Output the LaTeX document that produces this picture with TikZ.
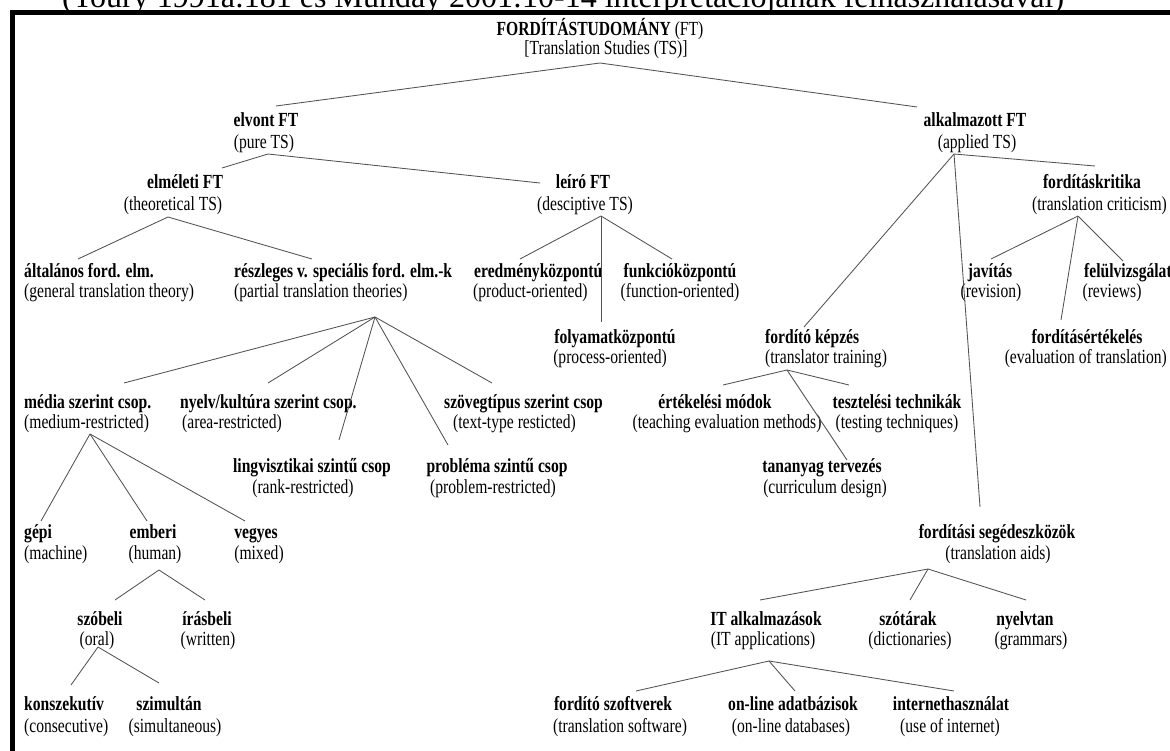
\documentclass[tikz,border=0pt]{standalone}
\usepackage{fontspec}
\setmainfont{Liberation Serif}
\newfontfamily\lab[FakeStretch=0.78]{Liberation Serif}
\usetikzlibrary{calc}
\begin{document}
\begin{tikzpicture}[x=1pt,y=-1pt,
  hu/.style={font=\lab\bfseries\fontsize{20}{22}\selectfont, inner sep=0pt, anchor=base},
  en/.style={font=\lab\fontsize{20}{22}\selectfont, inner sep=0pt, anchor=base},
  conn/.style={draw=black!68, line width=0.85pt}]
\useasboundingbox (0,0) rectangle (1170,751);

% caption above the frame and the frame rules
\node[anchor=base west, inner sep=0pt, font=\fontsize{32}{36}\selectfont] (cap) at (62,8)
  {(Toury 1991a:181 és Munday 2001:10-14 interpretációjának felhasználásával)};
\fill (10,10) rectangle (1172,15);
\fill (10,10) rectangle (15,753);

% levels 0-2
\node[hu] (root) at (600,36) {FORDÍTÁSTUDOMÁNY\mdseries\ (FT)};
\node[en] (rootE) at (606,55) {[Translation Studies (TS)]};
\node[hu] (elvont) at (266,127) {elvont FT};
\node[en] (elvontE) at (264,149) {(pure TS)};
\node[hu] (alk) at (975,127) {alkalmazott FT};
\node[en] (alkE) at (977,149) {(applied TS)};
\node[hu] (elm) at (185,189) {elméleti FT};
\node[en] (elmE) at (173,211) {(theoretical TS)};
\node[hu] (leiro) at (583,189) {leíró FT};
\node[en] (leiroE) at (585,211) {(desciptive TS)};
\node[hu] (krit) at (1092,189) {fordításkritika};
\node[en, anchor=base east] (kritE) at (1167,211) {(translation criticism)};

% level 3
\node[hu, anchor=base west] (alt) at (24,278) {általános ford. elm.};
\node[en, anchor=base west] (altE) at (24,298) {(general translation theory)};
\node[hu, anchor=base west] (resz) at (234,278) {részleges v. speciális ford. elm.-k};
\node[en, anchor=base west] (reszE) at (234,298) {(partial translation theories)};
\node[hu, anchor=base west] (ered) at (474,278) {eredményközpontú};
\node[en, anchor=base west] (eredE) at (473,298) {(product-oriented)};
\node[hu] (funk) at (680,278) {funkcióközpontú};
\node[en] (funkE) at (680,298) {(function-oriented)};
\node[hu] (jav) at (990,278) {javítás};
\node[en] (javE) at (991,298) {(revision)};
\node[hu, anchor=base west] (felul) at (1084,278) {felülvizsgálat};
\node[en] (felulE) at (1112,298) {(reviews)};

% level 4
\node[hu] (foly) at (615,343) {folyamatközpontú};
\node[en] (folyE) at (610,363) {(process-oriented)};
\node[hu, anchor=base west] (kepz) at (765,343) {fordító képzés};
\node[en, anchor=base west] (kepzE) at (765,363) {(translator training)};
\node[hu] (ertek) at (1087,343) {fordításértékelés};
\node[en, anchor=base east] (ertekE) at (1167,363) {(evaluation of translation)};

% level 5
\node[hu, anchor=base west] (media) at (24,408) {média szerint csop.};
\node[en, anchor=base west] (mediaE) at (24,428) {(medium-restricted)};
\node[hu, anchor=base west] (nyelv) at (180,408) {nyelv/kultúra szerint csop.};
\node[en, anchor=base west] (nyelvE) at (182,428) {(area-restricted)};
\node[hu, anchor=base west] (szoveg) at (444,408) {szövegtípus szerint csop};
\node[en, anchor=base west] (szovegE) at (453,428) {(text-type resticted)};
\node[hu] (ertekm) at (715,408) {értékelési módok};
\node[en] (ertekmE) at (727,428) {(teaching evaluation methods)};
\node[hu] (teszt) at (897,408) {tesztelési technikák};
\node[en] (tesztE) at (897,428) {(testing techniques)};

% level 6
\node[hu] (lingv) at (312,472) {lingvisztikai szintű csop};
\node[en] (lingvE) at (303,493) {(rank-restricted)};
\node[hu] (probl) at (497,472) {probléma szintű csop};
\node[en] (problE) at (493,493) {(problem-restricted)};
\node[hu] (tanany) at (822,472) {tananyag tervezés};
\node[en] (tananyE) at (825,493) {(curriculum design)};

% level 7
\node[hu, anchor=base west] (gepi) at (24,538) {gépi};
\node[en, anchor=base west] (gepiE) at (24,559) {(machine)};
\node[hu] (emberi) at (153,538) {emberi};
\node[en] (emberiE) at (155,559) {(human)};
\node[hu] (vegyes) at (256,538) {vegyes};
\node[en] (vegyesE) at (259,559) {(mixed)};
\node[hu] (seged) at (997,538) {fordítási segédeszközök};
\node[en] (segedE) at (998,559) {(translation aids)};

% level 8
\node[hu] (szob) at (100,625) {szóbeli};
\node[en] (szobE) at (97,645) {(oral)};
\node[hu] (iras) at (207,625) {írásbeli};
\node[en] (irasE) at (208,645) {(written)};
\node[hu] (it) at (766,625) {IT alkalmazások};
\node[en] (itE) at (763,645) {(IT applications)};
\node[hu] (szot) at (908,625) {szótárak};
\node[en] (szotE) at (910,645) {(dictionaries)};
\node[hu] (nyelvt) at (1025,625) {nyelvtan};
\node[en] (nyelvtE) at (1031,645) {(grammars)};

% level 9
\node[hu, anchor=base west] (konsz) at (24,710) {konszekutív};
\node[en, anchor=base west] (konszE) at (24,732) {(consecutive)};
\node[hu] (szim) at (169,710) {szimultán};
\node[en] (szimE) at (175,732) {(simultaneous)};
\node[hu] (szoft) at (613,710) {fordító szoftverek};
\node[en] (szoftE) at (620,732) {(translation software)};
\node[hu] (online) at (793,710) {on-line adatbázisok};
\node[en] (onlineE) at (791,732) {(on-line databases)};
\node[hu] (inet) at (951,710) {internethasználat};
\node[en] (inetE) at (950,732) {(use of internet)};

% branching points under each parent
\coordinate (jroot) at ($(rootE.base)+(-6,8)$);
\coordinate (jelvont) at ($(elvontE.base)+(4,5)$);
\coordinate (jalk) at ($(alkE.base)+(-23,5)$);
\coordinate (jelm) at ($(elmE.base)+(-5,6)$);
\coordinate (jleiro) at ($(leiroE.base)+(16,5)$);
\coordinate (jkrit) at ($(kritE.base east)+(-89,5)$);
\coordinate (jresz) at ($(reszE.base west)+(141,19)$);
\coordinate (jkepz) at ($(kepzE.base west)+(22,7)$);
\coordinate (jmedia) at ($(mediaE.base west)+(66,6)$);
\coordinate (jemberi) at ($(emberiE.base)+(4,11)$);
\coordinate (jszob) at ($(szobE.base)+(1,2)$);
\coordinate (jseged) at ($(segedE.base)+(-70,10)$);
\coordinate (jit) at ($(itE.base)+(6,16)$);

% connectors
\draw[conn] (jroot) -- ($(elvont.base)+(10,-21)$);
\draw[conn] (jroot) -- ($(alk.base)+(-58,-20)$);
\draw[conn] (jelvont) -- ($(elm.base)+(37,-21)$);
\draw[conn] (jelvont) -- ($(leiro.base)+(-43,-6)$);
\draw[conn] (jalk) -- ($(krit.base)+(3,-23)$);
\draw[conn] (jalk) -- ($(kepz.base west)+(39,-16)$);
\draw[conn] (jalk) -- ($(seged.base)+(-17,-31)$);
\draw[conn] (jelm) -- ($(alt.base west)+(54,-19)$);
\draw[conn] (jelm) -- ($(resz.base west)+(78,-19)$);
\draw[conn] (jleiro) -- ($(ered.base west)+(46,-19)$);
\draw[conn] (jleiro) -- ($(foly.base)+(-14,-21)$);
\draw[conn] (jleiro) -- ($(funk.base)+(-8,-19)$);
\draw[conn] (jkrit) -- ($(jav.base)+(1,-19)$);
\draw[conn] (jkrit) -- ($(felul.base west)+(39,-17)$);
\draw[conn] (jkrit) -- ($(ertek.base)+(-26,-23)$);
\draw[conn] (jresz) -- ($(media.base west)+(100,-25)$);
\draw[conn] (jresz) -- ($(nyelv.base west)+(88,-25)$);
\draw[conn] (jresz) -- ($(lingv.base)+(27,-32)$);
\draw[conn] (jresz) -- ($(probl.base)+(-49,-27)$);
\draw[conn] (jresz) -- ($(szoveg.base west)+(48,-25)$);
\draw[conn] (jkepz) -- ($(ertekm.base)+(8,-23)$);
\draw[conn] (jkepz) -- ($(teszt.base)+(-48,-23)$);
\draw[conn] (jkepz) -- ($(tanany.base)+(25,-12)$);
\draw[conn] (jmedia) -- ($(gepi.base west)+(17,-17)$);
\draw[conn] (jmedia) -- ($(emberi.base)+(-6,-17)$);
\draw[conn] (jmedia) -- ($(vegyes.base)+(-11,-17)$);
\draw[conn] (jemberi) -- ($(szob.base)+(15,-25)$);
\draw[conn] (jemberi) -- ($(iras.base)+(-2,-25)$);
\draw[conn] (jszob) -- ($(konsz.base west)+(47,-25)$);
\draw[conn] (jszob) -- ($(szim.base)+(-10,-27)$);
\draw[conn] (jseged) -- ($(it.base)+(-6,-25)$);
\draw[conn] (jseged) -- ($(szot.base)+(2,-25)$);
\draw[conn] (jseged) -- ($(nyelvt.base)+(1,-25)$);
\draw[conn] (jit) -- ($(szoft.base)+(23,-19)$);
\draw[conn] (jit) -- ($(online.base)+(2,-19)$);
\draw[conn] (jit) -- ($(inet.base)+(3,-19)$);
\end{tikzpicture}
\end{document}
